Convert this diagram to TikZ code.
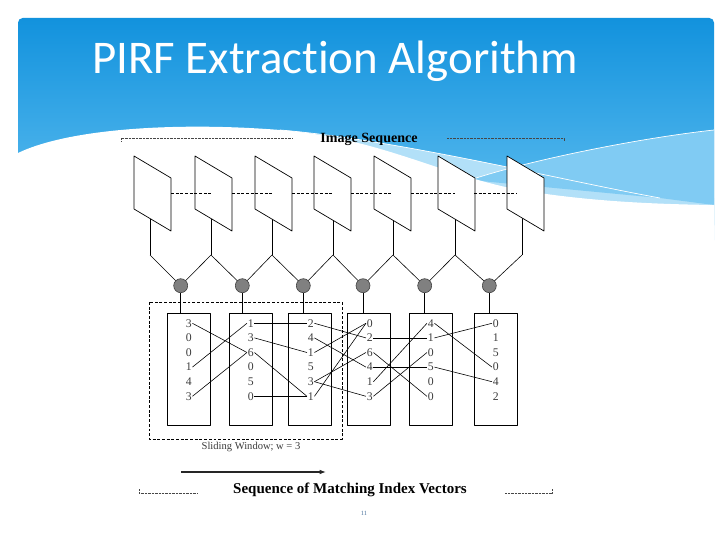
\documentclass[tikz,border=0pt]{standalone}
\usepackage{fontspec}
\setmainfont{Liberation Serif}
\newfontfamily\titlefont[RawFeature=-liga]{Carlito}
\usetikzlibrary{arrows.meta}
\definecolor{hdrtop}{RGB}{18,146,221}
\definecolor{hdrbot}{RGB}{98,192,241}
\definecolor{wavepale}{RGB}{178,224,248}
\definecolor{wavelight}{RGB}{128,203,243}
\definecolor{numgray}{RGB}{60,60,60}
\definecolor{dotgray}{RGB}{70,70,70}
\definecolor{pagenum}{RGB}{80,120,160}
\tikzset{frame/.style={draw=black,fill=white,line width=.6pt},
 link/.style={draw=black,line width=.5pt},
 match/.style={circle,draw=black!75,fill=black!50,line width=.5pt,minimum size=4.2mm,inner sep=0pt},
 vecbox/.style={draw=black,line width=.6pt,minimum width=12.9mm,minimum height=33.6mm,inner sep=0pt},
 num/.style={font=\fontsize{10}{11}\selectfont,text=numgray,inner sep=.5pt},
 seqdash/.style={dash pattern=on 2.5pt off 1.5pt,line width=.6pt},
 guide/.style={draw=dotgray,line width=.35pt,dash pattern=on .6pt off .6pt},
 heading/.style={font=\fontsize{12}{14}\selectfont\bfseries,inner sep=0pt},
 every picture/.style={line join=round}}
\begin{document}
\begin{tikzpicture}[x=0.3mm,y=-0.3mm]
\useasboundingbox[fill=white] (0,0) rectangle (728,546);
% header and waves
\shade[top color=hdrtop,bottom color=hdrbot,rounded corners=4] (18,18) rectangle (714,230);
\fill[wavepale] (280,130) .. controls (400,140) and (560,180) .. (660,198) -- (714,198) -- (714,240) -- (280,240) -- cycle;
\fill[wavelight] (470,180) .. controls (530,160) and (640,138) .. (714,130) -- (714,205) -- (660,198) -- cycle;
\fill[white] (18,153) .. controls (70,128) and (180,122) .. (280,130) .. controls (380,138) and (440,175) .. (520,190) .. controls (580,200) and (640,204) .. (714,205) -- (714,250) -- (18,250) -- cycle;
\draw[white,line width=.6pt] (280,130) .. controls (400,140) and (560,180) .. (660,198);
\draw[white,line width=.6pt] (470,180) .. controls (530,160) and (640,138) .. (714,130);
\node[anchor=base west,text=white,font=\titlefont\fontsize{40}{44}\selectfont,inner sep=0pt] (title) at (92,74) {PIRF Extraction Algorithm};

% image sequence
\node[heading,anchor=base] (imgseq) at (369,142) {Image Sequence};
\draw[guide] (121,141.5) -- (121,138) -- (292,138);
\draw[guide] (447,138) -- (564,138) -- (564,141.5);
\foreach \i/\l/\v in {1/134/150,2/195/211,3/255/272,4/314/333,5/374/393,6/438/455,7/507/522}{
  \coordinate (f\i) at (\v,215);
  \coordinate (k\i) at (\v,255);
  \draw[link] (f\i) -- (k\i);
  \path[frame] (\l,156) -- ++(37,22) -- ++(0,53) -- ++(-37,-22) -- cycle;
}
\foreach \a/\b in {171/211,232/272,292/332,351/393,411/455,474/517}
  \draw[seqdash] (\a,193) -- (\b,193);

% matching
\foreach \i/\x in {1/180.7,2/242.3,3/303.3,4/363,5/424.7,6/489.3}
  \node[match] (c\i) at (\x,285.7) {};
\foreach \i [evaluate=\i as \j using int(\i+1)] in {1,...,6}
  \draw[link] (k\i) -- (c\i) -- (k\j);

% index vectors
\foreach \i/\x in {1/189,2/250.8,3/310.3,4/369.3,5/430.6,6/496.3}{
  \node[vecbox] (v\i) at (\x,369) {};
  \draw[link] (c\i) -- (c\i |- v\i.north);
}
\foreach \c/\x/\vals in {1/188.7/{3,0,0,1,4,3},2/250.7/{1,3,6,0,5,0},3/310.7/{2,4,1,5,3,1},
  4/369.7/{0,2,6,4,1,3},5/430.7/{4,1,0,5,0,0},6/495.7/{0,1,5,0,4,2}}
  \foreach \val [count=\r] in \vals
    \node[num] (n\c-\r) at (\x,{308.7+14.6*\r}) {\val};
\foreach \a/\b in {1-1/2-3,1-4/2-1,1-6/2-3,2-1/3-1,2-2/3-3,2-3/3-6,2-6/3-6,
  3-1/4-2,3-2/4-4,3-3/4-1,3-5/4-3,3-5/4-6,3-6/4-1,
  4-2/5-2,4-3/5-6,4-4/5-4,4-5/5-1,4-6/5-3,5-1/6-4,5-2/6-1,5-4/6-5}
  \draw[link] (n\a.east) -- (n\b.west);

% sliding window
\draw[seqdash] (149,302) rectangle (342,439);
\node[font=\fontsize{9}{10}\selectfont,text=numgray,inner sep=0pt] (win) at (251,447) {Sliding Window; w = 3};
\coordinate (arrS) at (181,472);
\coordinate (arrE) at (326,472);
\draw[-{Latex[length=1.9mm,width=1.4mm]},line width=1pt,black!85] (arrS) -- (arrE);

\node[heading,font=\fontsize{12.8}{14}\selectfont\bfseries,anchor=base] (miv) at (350,493) {Sequence of Matching Index Vectors};
\draw[guide] (139,489) -- (139,493) -- (198,493);
\draw[guide] (505,493) -- (552,493) -- (552,489);
\node[font=\fontsize{5.5}{6}\selectfont,text=pagenum,inner sep=0pt] (pnum) at (364,513) {11};
\end{tikzpicture}
\end{document}
